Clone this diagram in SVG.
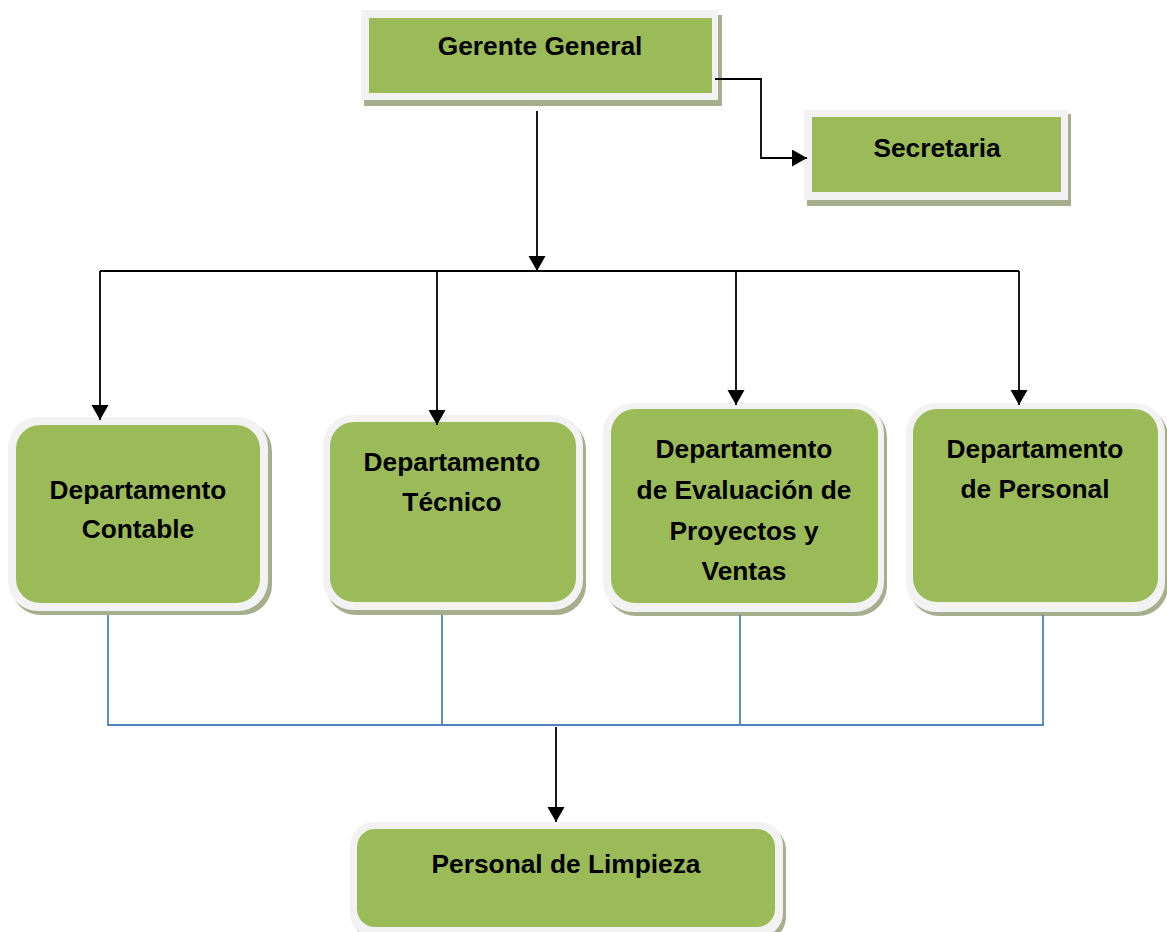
<svg xmlns="http://www.w3.org/2000/svg" width="1167" height="932" viewBox="0 0 1167 932">
<style>
.sh{fill:#a7ae8e}
.bd{fill:#f2f2f2}
.gr{fill:#9bbb59}
.t{font-family:"Liberation Sans",Arial,sans-serif;font-weight:bold;font-size:26.3px;fill:#000;text-anchor:middle}
.k{fill:none;stroke:#000;stroke-width:1.8}
.b{fill:none;stroke:#4f81bd;stroke-width:1.8}
</style>
<defs>
<marker id="ar" markerUnits="userSpaceOnUse" markerWidth="16" markerHeight="18" refX="15" refY="8.5" orient="auto">
<path d="M0,0 L15,8.5 L0,17 Z" fill="#000"/>
</marker>
</defs>
<rect width="1167" height="932" fill="#fff"/>
<g id="gerente">
<rect class="sh" x="364" y="15" width="358" height="91"/>
<rect class="bd" x="361" y="10" width="357" height="90"/>
<rect class="gr" x="369" y="18" width="343" height="75"/>
<text class="t" x="540" y="55">Gerente General</text>
</g>
<g id="secretaria">
<rect class="sh" x="807" y="114" width="264" height="92"/>
<rect class="bd" x="804" y="110" width="264" height="90"/>
<rect class="gr" x="812" y="117" width="249" height="75"/>
<text class="t" x="937" y="157">Secretaria</text>
</g>
<g id="contable">
<rect class="sh" x="11" y="421" width="261" height="194" rx="30"/>
<rect class="bd" x="8" y="417" width="260" height="194" rx="30"/>
<rect class="gr" x="16" y="425" width="244" height="178" rx="24"/>
<text class="t" x="138" y="499">Departamento</text>
<text class="t" x="138" y="538">Contable</text>
</g>
<g id="tecnico">
<rect class="sh" x="326" y="419" width="260" height="196" rx="30"/>
<rect class="bd" x="323" y="415" width="260" height="195" rx="30"/>
<rect class="gr" x="330" y="422" width="246" height="180" rx="24"/>
<text class="t" x="452" y="471">Departamento</text>
<text class="t" x="452" y="511">Técnico</text>
</g>
<g id="evaluacion">
<rect class="sh" x="606" y="407" width="281" height="209" rx="30"/>
<rect class="bd" x="603" y="403" width="281" height="209" rx="30"/>
<rect class="gr" x="611" y="409" width="267" height="194" rx="24"/>
<text class="t" x="744" y="458">Departamento</text>
<text class="t" x="744" y="499">de Evaluación de</text>
<text class="t" x="744" y="540">Proyectos y</text>
<text class="t" x="744" y="580">Ventas</text>
</g>
<g id="personal">
<rect class="sh" x="909" y="407" width="259" height="209" rx="30"/>
<rect class="bd" x="906" y="403" width="259" height="209" rx="30"/>
<rect class="gr" x="913" y="409" width="245" height="193" rx="24"/>
<text class="t" x="1035" y="458">Departamento</text>
<text class="t" x="1035" y="498">de Personal</text>
</g>
<g id="limpieza">
<rect class="sh" x="353" y="826" width="433" height="115" rx="24"/>
<rect class="bd" x="350" y="822" width="433" height="115" rx="24"/>
<rect class="gr" x="357" y="829" width="418" height="98" rx="18"/>
<text class="t" x="566" y="873">Personal de Limpieza</text>
</g>
<g id="connectors">
<polyline class="k" points="715,79 761,79 761,158 807,158" marker-end="url(#ar)"/>
<line class="k" x1="537" y1="111" x2="537" y2="271" marker-end="url(#ar)"/>
<line class="k" x1="100" y1="271" x2="1019" y2="271"/>
<line class="k" x1="100" y1="271" x2="100" y2="420" marker-end="url(#ar)"/>
<line class="k" x1="437" y1="271" x2="437" y2="425" marker-end="url(#ar)"/>
<line class="k" x1="736" y1="271" x2="736" y2="405" marker-end="url(#ar)"/>
<line class="k" x1="1019" y1="271" x2="1019" y2="405" marker-end="url(#ar)"/>
<polyline class="b" points="108,615 108,725 1043,725 1043,615"/>
<line class="b" x1="442" y1="615" x2="442" y2="725"/>
<line class="b" x1="740" y1="615" x2="740" y2="725"/>
<line class="k" x1="556" y1="727" x2="556" y2="822" marker-end="url(#ar)"/>
</g>
</svg>
